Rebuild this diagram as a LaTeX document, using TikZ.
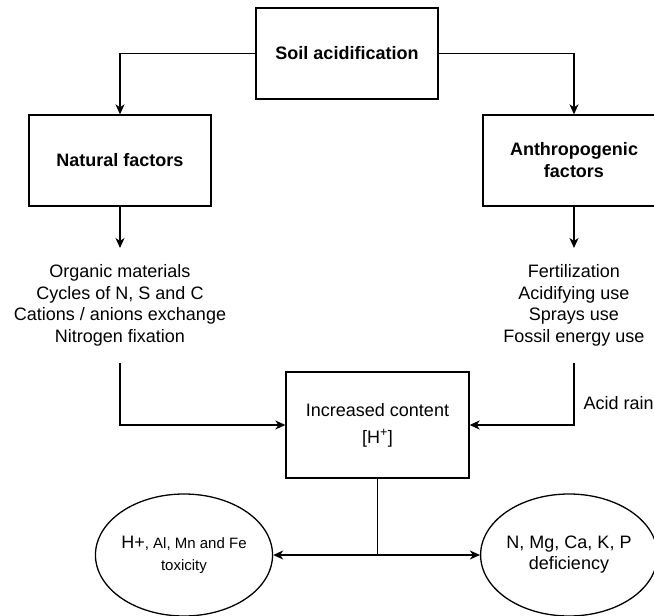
\documentclass[tikz,border=0pt]{standalone}
\usepackage{fontspec}
\setmainfont{Liberation Sans}
\usetikzlibrary{arrows.meta,shapes.geometric,calc}
\begin{document}
\begin{tikzpicture}[x=1pt,y=-1pt,
  line width=1.3pt,
  every node/.style={font=\fontsize{18pt}{21.6pt}\selectfont},
  boxnode/.style={draw, rectangle, minimum width=182pt, minimum height=91pt, inner sep=2pt, align=center, font=\fontsize{18pt}{22pt}\selectfont\bfseries},
  listnode/.style={align=center, inner xsep=2pt, inner ysep=16pt, anchor=north},
  ellnode/.style={draw, ellipse, inner sep=0pt, align=center},
  arr/.style={-{Stealth[length=10pt,width=9pt,inset=3pt]}}
]
\path[use as bounding box, clip] (0,0) rectangle (654,616);

\node[boxnode] (top) at (347,53.5) {Soil acidification};
\node[boxnode] (nat) at (120,160.5) {Natural factors};
\node[boxnode] (ant) at (574,160.5) {Anthropogenic\\factors};

\node[listnode] (natlist) at (120,248) {Organic materials\\Cycles of N, S and C\\Cations / anions exchange\\Nitrogen fixation};
\node[listnode] (antlist) at (574,248) {Fertilization\\Acidifying use\\Sprays use\\Fossil energy use};

\node[draw, rectangle, minimum width=183pt, minimum height=106pt, inner sep=2pt, align=center,
  font=\fontsize{18pt}{27pt}\selectfont] (inc) at (377.5,425) {Increased content\\{[}H\textsuperscript{+}{]}};

\node[anchor=west, inner sep=0pt] (rain) at (583,403) {Acid rain};

\node[ellnode, minimum width=176pt, minimum height=122pt] (tox) at (184,555)
  {{\fontsize{18pt}{21pt}\selectfont H+}{\fontsize{15pt}{21pt}\selectfont , Al, Mn and Fe}\\{\fontsize{15pt}{21pt}\selectfont toxicity}};
\node[ellnode, minimum width=172pt, minimum height=122pt, font=\fontsize{18pt}{21pt}\selectfont] (def) at (569,555)
  {N, Mg, Ca, K, P\\deficiency};

\draw[arr] (top.west) -| (nat.north);
\draw[arr] (top.east) -| (ant.north);
\draw[arr] (nat.south) -- (natlist.north);
\draw[arr] (ant.south) -- (antlist.north);
\draw[arr] (natlist.south) |- (inc.west);
\draw[arr] (antlist.south) |- (inc.east);

\coordinate (split) at (inc.south |- tox.east);
\draw (inc.south) -- (split);
\draw[arr] (split) -- (tox.east);
\draw[arr] (split) -- (def.west);
\end{tikzpicture}
\end{document}
